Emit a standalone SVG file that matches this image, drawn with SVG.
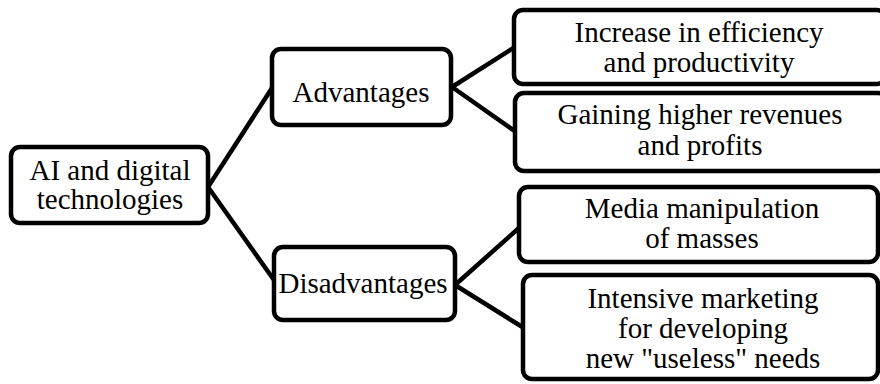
<svg xmlns="http://www.w3.org/2000/svg" width="880" height="384" viewBox="0 0 880 384">
<style>
.box{fill:#fff;stroke:#000;stroke-width:4.5}
.t{font-size:29px;fill:#000;text-anchor:middle}
.c{stroke:#000;stroke-width:4.5;fill:none}
</style>
<rect width="880" height="384" fill="#fff"/>
<g id="connectors">
<line class="c" x1="208" y1="187" x2="272" y2="88"/>
<line class="c" x1="208" y1="187" x2="274" y2="280"/>
<line class="c" x1="452" y1="87" x2="515" y2="47"/>
<line class="c" x1="452" y1="87" x2="516" y2="132"/>
<line class="c" x1="455" y1="285" x2="520" y2="227"/>
<line class="c" x1="455" y1="285" x2="524" y2="328"/>
</g>
<g font-family="Liberation Serif, Times New Roman, DejaVu Serif, serif">
<g id="root">
<rect class="box" x="11" y="147" width="197" height="76" rx="9"/>
<text class="t" x="110" y="180">AI and digital</text>
<text class="t" x="110" y="209">technologies</text>
</g>
<g id="advantages">
<rect class="box" x="272" y="49" width="179" height="76" rx="9"/>
<text class="t" x="361" y="102">Advantages</text>
</g>
<g id="disadvantages">
<rect class="box" x="274" y="247" width="181" height="73" rx="9"/>
<text class="t" x="363" y="293">Disadvantages</text>
</g>
<g id="efficiency">
<rect class="box" x="514" y="10" width="372" height="74" rx="9"/>
<text class="t" x="699" y="42">Increase in efficiency</text>
<text class="t" x="699" y="72">and productivity</text>
</g>
<g id="revenues">
<rect class="box" x="515" y="93" width="372" height="78" rx="9"/>
<text class="t" x="700" y="124">Gaining higher revenues</text>
<text class="t" x="700" y="155">and profits</text>
</g>
<g id="media">
<rect class="box" x="519" y="187" width="359" height="75" rx="9"/>
<text class="t" x="702" y="218">Media manipulation</text>
<text class="t" x="702" y="248">of masses</text>
</g>
<g id="marketing">
<rect class="box" x="523" y="275" width="355" height="104" rx="9"/>
<text class="t" x="703" y="308">Intensive marketing</text>
<text class="t" x="703" y="338">for developing</text>
<text class="t" x="703" y="368">new "useless" needs</text>
</g>
</g>
</svg>
